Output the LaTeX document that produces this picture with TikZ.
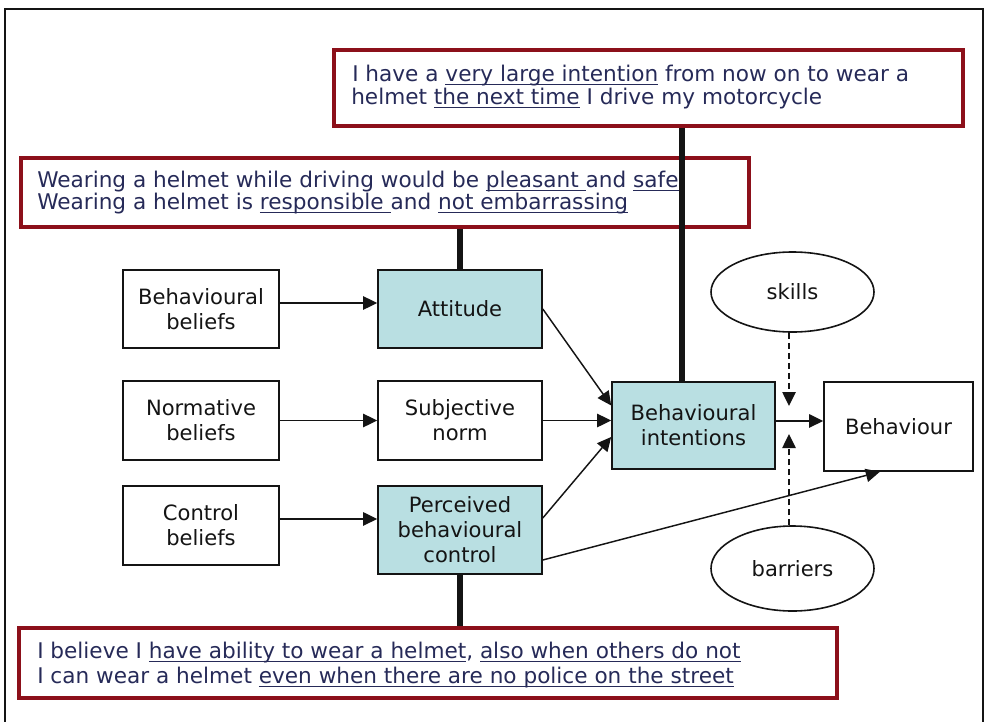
\documentclass[tikz,border=0pt]{standalone}
\usepackage{fontspec}
\setmainfont{DejaVu Sans}
\newcommand{\myul}[1]{\setbox0=\hbox{#1}\rlap{\rule[-3.2pt]{\wd0}{0.9pt}}\box0\relax}
\usetikzlibrary{arrows.meta,calc,shapes.geometric}
\definecolor{tealfill}{RGB}{185,223,226}
\definecolor{boxred}{RGB}{140,16,26}
\definecolor{navy}{RGB}{38,42,88}
\definecolor{ink}{RGB}{20,20,20}
\tikzset{
  plainbox/.style={draw=ink, line width=1.2pt, fill=white, rectangle, inner sep=0pt,
    align=center, text=ink, font=\fontsize{15.8}{18.75}\selectfont},
  tealbox/.style={plainbox, fill=tealfill},
  ovalbox/.style={draw=ink, line width=1.2pt, ellipse, inner sep=0pt,
    minimum width=122.25pt, text=ink, font=\fontsize{15.8}{18.75}\selectfont},
  redbox/.style={draw=boxred, line width=2.6pt, rectangle, inner sep=0pt},
  redtext/.style={inner sep=0pt, anchor=base west, text=navy,
    font=\fontsize{16.2}{18}\selectfont},
  arr/.style={draw=ink, line width=1.1pt, -{Triangle[length=10.5pt,width=10pt]}},
  dasharr/.style={arr, dash pattern=on 4.5pt off 3pt},
  thickln/.style={draw=ink, line width=4pt},
}
\begin{document}
\begin{tikzpicture}[x=0.75pt,y=-0.75pt]
\useasboundingbox (0,0) rectangle (988,721);
\clip (0,0) rectangle (988,721);
\draw[line width=2.2pt, ink] (5,735) -- (5,9) -- (983,9) -- (983,735);

% red statement boxes
\node[redbox, minimum width=471.75pt, minimum height=57pt] (t1) at (648.5,88) {};
\node[redbox, minimum width=546pt, minimum height=51.75pt] (t2) at (385,192.5) {};
\node[redbox, minimum width=613.5pt, minimum height=52.5pt] (t3) at (428,663) {};

\node[redtext] (t1a) at (352,81) {I have a \myul{very large intention} from now on to wear a};
\node[redtext] (t1b) at (351,104) {helmet \myul{the next time} I drive my motorcycle};
\node[redtext] (t2a) at (37,187) {Wearing a helmet while driving would be \myul{pleasant }and \myul{safe}};
\node[redtext] (t2b) at (37,209) {Wearing a helmet is \myul{responsible }and \myul{not embarrassing}};
\node[redtext] (t3a) at (37,658) {I believe I \myul{have ability to wear a helmet}, \myul{also when others do not}};
\node[redtext] (t3b) at (37,683) {I can wear a helmet \myul{even when there are no police on the street}};

% model boxes
\node[plainbox, minimum width=117pt, minimum height=58.5pt] (bb) at (201,309) {Behavioural\\beliefs};
\node[tealbox, minimum width=123pt, minimum height=58.5pt] (att) at (460,309) {Attitude};
\node[plainbox, minimum width=117pt, minimum height=59.25pt] (nb) at (201,420.5) {Normative\\beliefs};
\node[plainbox, minimum width=123pt, minimum height=59.25pt] (sn) at (460,420.5) {Subjective\\norm};
\node[plainbox, minimum width=117pt, minimum height=59.25pt] (cb) at (201,525.5) {Control\\beliefs};
\node[tealbox, minimum width=123pt, minimum height=66pt] (pbc) at (460,530) {Perceived\\behavioural\\control};
\node[tealbox, minimum width=122.25pt, minimum height=65.25pt] (bi) at (693.5,425.5) {Behavioural\\intentions};
\node[plainbox, minimum width=111.75pt, minimum height=66.75pt] (beh) at (898.5,426.5) {Behaviour};
\node[ovalbox, minimum height=60pt] (sk) at (792.5,292) {skills};
\node[ovalbox, minimum height=63.75pt] (bar) at (792.5,568.5) {barriers};

% thick links
\coordinate (xa) at (682,0);
\draw[thickln] (t1.south -| xa) -- (bi.north -| xa);
\draw[thickln] (t2.south -| att.north) -- (att.north);
\draw[thickln] (pbc.south) -- (pbc.south |- t3.north);

% arrows
\draw[arr] ([yshift=4.5pt]bb.east) -- ([yshift=4.5pt]bb.east -| att.west);
\draw[arr] (nb.east) -- (sn.west);
\draw[arr] ([yshift=4.9pt]cb.east) -- ([yshift=4.9pt]cb.east -| pbc.west);
\draw[arr] (att.east) -- ([yshift=15pt]bi.west);
\draw[arr] (sn.east) -- (sn.east -| bi.west);
\draw[arr] ([yshift=9pt]pbc.east) -- ([yshift=-8.6pt]bi.west);
\draw[arr] ([yshift=3.4pt]bi.east) -- ([yshift=3.4pt]bi.east -| beh.west);
\draw[arr] ([yshift=-22.5pt]pbc.east) -- ([xshift=-14pt]beh.south);
\coordinate (skend) at (789,406);
\coordinate (barend) at (789,434);
\draw[dasharr] (sk.south -| skend) -- (skend);
\draw[dasharr] (bar.north -| barend) -- (barend);
\end{tikzpicture}
\end{document}
